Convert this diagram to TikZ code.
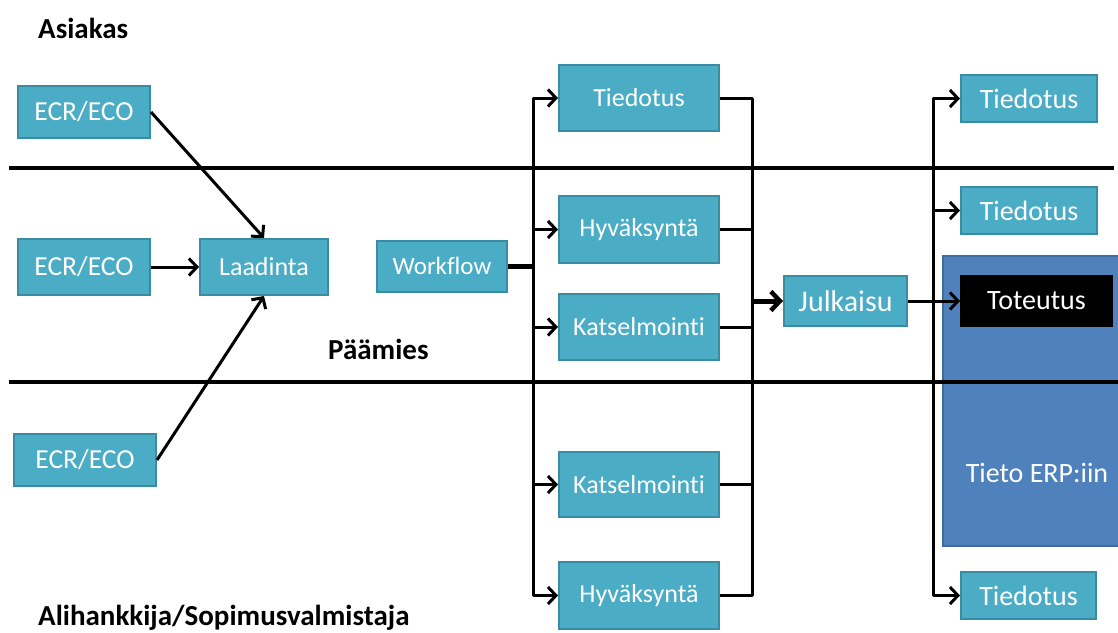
\documentclass[tikz,border=0pt]{standalone}
\usepackage{fontspec}
\setmainfont{Carlito}[Ligatures=NoCommon]
\usetikzlibrary{arrows.meta}
\definecolor{boxfill}{HTML}{4BACC6}
\definecolor{boxedge}{HTML}{3A8CA3}
\definecolor{erpfill}{HTML}{4F81BD}
\definecolor{erpedge}{HTML}{3F6A9E}
\begin{document}
\begin{tikzpicture}[x=1pt,y=-1pt,
  box/.style={draw=boxedge, fill=boxfill, line width=2pt, text=white,
    inner sep=0pt, font=\fontsize{26}{30}\selectfont},
  reqbox/.style={box, font=\fontsize{27.5}{31}\selectfont},
  bigbox/.style={box, font=\fontsize{28}{32}\selectfont},
  lane/.style={line width=3.4pt, black},
  lanelabel/.style={font=\bfseries\fontsize{29}{33}\selectfont, inner sep=0pt},
  conn/.style={line width=3pt, black, line join=round},
  arr/.style={conn, -{Straight Barb[length=8pt,width=17pt,line width=3pt]}},
  heavy/.style={line width=5pt}
]
\useasboundingbox (0,0) rectangle (1118,632);

% ERP area behind the implementation step
\fill[erpfill] (943,256) rectangle (1130,546);
\draw[erpedge, line width=1.6pt] (1130,256) -- (943,256) -- (943,546) -- (1130,546);
\node[text=white, font=\fontsize{28}{32}\selectfont] (erp) at (1037,473) {Tieto ERP:iin};

% swimlane dividers
\draw[lane] (9,168) -- (1114,168);
\draw[lane] (9,382) -- (1118,382);

% lane titles
\node[lanelabel, anchor=west] (asiakas) at (38,28) {Asiakas};
\node[lanelabel, anchor=west] (paamies) at (328,349) {Päämies};
\node[lanelabel, anchor=west] (ali) at (38,618) {Alihankkija/Sopimusvalmistaja};

% change requests
\node[reqbox, minimum width=132pt, minimum height=52pt] (e1) at (84,112) {ECR/ECO};
\node[reqbox, minimum width=132pt, minimum height=56pt] (e2) at (84,267) {ECR/ECO};
\node[reqbox, minimum width=142pt, minimum height=52pt] (e3) at (85,460) {ECR/ECO};
\node[box, minimum width=128pt, minimum height=56pt] (lad) at (264,267) {Laadinta};
\node[box, font=\fontsize{25}{30}\selectfont, minimum width=130pt, minimum height=51pt] (wf) at (442,266) {Workflow};

% parallel workflow steps
\node[box, minimum width=160pt, minimum height=66pt] (t1) at (639,98) {Tiedotus};
\node[box, minimum width=160pt, minimum height=67pt] (h1) at (639,229.5) {Hyväksyntä};
\node[box, minimum width=160pt, minimum height=66pt] (k1) at (639,327) {Katselmointi};
\node[box, minimum width=160pt, minimum height=65pt] (k2) at (639,484.5) {Katselmointi};
\node[box, minimum width=160pt, minimum height=67pt] (h2) at (639,595.5) {Hyväksyntä};

% release and follow-up
\node[bigbox, font=\fontsize{30}{34}\selectfont, minimum width=123pt, minimum height=50pt] (jul) at (845.5,301) {Julkaisu};
\node[bigbox, minimum width=136pt, minimum height=47pt] (r1) at (1029,98.5) {Tiedotus};
\node[bigbox, minimum width=136pt, minimum height=47pt] (r2) at (1029,210.5) {Tiedotus};
\node[bigbox, minimum width=135pt, minimum height=47pt] (r3) at (1028.5,595.5) {Tiedotus};
\node[bigbox, draw=black, fill=black, minimum width=151pt, minimum height=50pt] (tot) at (1036.5,301) {Toteutus};

% bus junctions
\coordinate (b1) at (533,266);
\coordinate (b2) at (752,301);
\coordinate (b3) at (933,301);

% inputs to drafting
\draw[arr] (e1.east) -- (lad.north);
\draw[arr] (e2.east) -- (lad.west);
\draw[arr] (e3.east) -- (lad.south);

% fan-out from workflow
\draw[conn, heavy] (wf.east) -- (b1);
\draw[arr] (b1) |- (t1.west);
\draw[arr] (b1) |- (h1.west);
\draw[arr] (b1) |- (k1.west);
\draw[arr] (b1) |- (k2.west);
\draw[arr] (b1) |- (h2.west);

% fan-in to release
\draw[conn] (t1.east) -| (b2);
\draw[conn] (h1.east) -| (b2);
\draw[conn] (k1.east) -| (b2);
\draw[conn] (k2.east) -| (b2);
\draw[conn] (h2.east) -| (b2);
\draw[conn, heavy, -{Straight Barb[length=9pt,width=19pt,line width=4.5pt]}] (b2) -- (jul.west);

% distribution after release
\draw[arr] (jul.east) -- (tot.west);
\draw[arr] (b3) |- (r1.west);
\draw[arr] (b3) |- (r2.west);
\draw[arr] (b3) |- (r3.west);
\end{tikzpicture}
\end{document}
